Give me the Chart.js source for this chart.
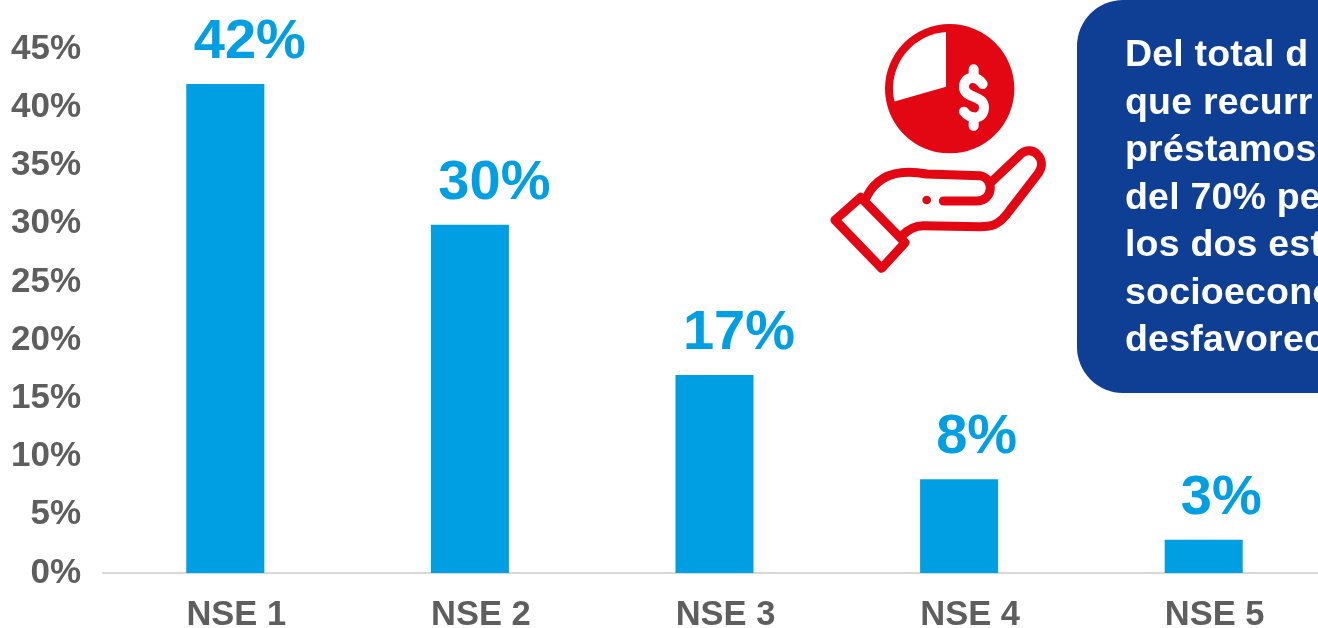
<!DOCTYPE html>
<html lang="es"><head><meta charset="utf-8">
<style>html,body{margin:0;padding:0;background:#fff;overflow:hidden;width:1318px;height:628px}canvas{display:block}</style>
<script src="https://cdn.jsdelivr.net/npm/chart.js@4"></script></head>
<body><canvas id="c" width="1326" height="628"></canvas>
<script>
const categories = ["NSE 1","NSE 2","NSE 3","NSE 4","NSE 5"];
const shares = [42, 29.9, 17, 8.05, 2.85];
const calloutLines = ["Del total d","que recurr","préstamos","del 70% pe","los dos est","socioecono","desfavorec"];
const FONT = '"Liberation Sans", Arial, sans-serif';
const BLUE = '#009FE3', GREY = '#5E5E5E', RED = '#E30613', NAVY = '#0F3F94';

const artwork = {
  id: 'artwork',
  afterDatasetsDraw(chart) {
    const ctx = chart.ctx, meta = chart.getDatasetMeta(0);
    ctx.save();
    ctx.fillStyle = BLUE; ctx.font = 'bold 56px ' + FONT;
    ctx.textAlign = 'center'; ctx.textBaseline = 'alphabetic';
    meta.data.forEach((bar, i) => {
      const txt = shares[i].toFixed(0) + '%';
      ctx.fillText(txt, bar.x + (txt.length > 2 ? 24.5 : 17.5), bar.y - 26);
    });
    // callout
    ctx.fillStyle = NAVY;
    ctx.beginPath(); ctx.roundRect(1077, 0, 300, 393, 46); ctx.fill();
    ctx.fillStyle = '#fff'; ctx.font = 'bold 37.5px ' + FONT; ctx.textAlign = 'left';
    ctx.letterSpacing = '0.2px';
    calloutLines.forEach((l, i) => ctx.fillText(l, 1125, 66 + i * 47.5));
    ctx.letterSpacing = '0px';
    // icon
    ctx.translate(820, 0); ctx.scale(1/3, 1/3);
    ctx.fillStyle = RED; ctx.strokeStyle = RED;
    ctx.beginPath(); ctx.arc(389, 266, 194, 0, Math.PI * 2); ctx.fill();
    ctx.fillStyle = '#fff';
    ctx.beginPath(); ctx.moveTo(378, 260); ctx.lineTo(378, 97);
    ctx.arc(389, 266, 170, Math.atan2(97 - 266, 378 - 389), Math.atan2(305 - 266, 222 - 389), true);
    ctx.closePath(); ctx.fill();
    ctx.strokeStyle = '#fff'; ctx.lineWidth = 30; ctx.lineCap = 'round'; ctx.lineJoin = 'round';
    ctx.beginPath();
    ctx.moveTo(488, 252); ctx.bezierCurveTo(470, 225, 432, 228, 432, 262);
    ctx.bezierCurveTo(432, 295, 492, 285, 492, 322);
    ctx.bezierCurveTo(492, 360, 450, 360, 432, 335);
    ctx.moveTo(461, 208); ctx.lineTo(461, 230);
    ctx.moveTo(461, 352); ctx.lineTo(461, 378);
    ctx.stroke();
    ctx.strokeStyle = RED; ctx.fillStyle = RED; ctx.lineWidth = 27;
    ctx.beginPath(); ctx.moveTo(45, 660); ctx.lineTo(122, 592); ctx.lineTo(255, 728); ctx.lineTo(185, 805); ctx.closePath(); ctx.stroke();
    ctx.beginPath(); ctx.moveTo(140, 590);
    ctx.bezierCurveTo(170, 530, 230, 505, 320, 522);
    ctx.lineTo(480, 527); ctx.bezierCurveTo(525, 535, 520, 603, 470, 603); ctx.lineTo(370, 603);
    ctx.moveTo(515, 545); ctx.lineTo(605, 460);
    ctx.bezierCurveTo(635, 435, 685, 475, 655, 520);
    ctx.lineTo(570, 630); ctx.bezierCurveTo(535, 680, 510, 680, 480, 680);
    ctx.lineTo(310, 677); ctx.bezierCurveTo(280, 677, 262, 690, 245, 708);
    ctx.stroke();
    ctx.beginPath(); ctx.arc(320, 600, 13, 0, Math.PI * 2); ctx.fill();
    ctx.restore();
  }
};

new Chart(document.getElementById('c'), {
  type: 'bar',
  data: { labels: categories, datasets: [{ data: shares, backgroundColor: BLUE, barPercentage: 0.319, categoryPercentage: 1 }] },
  options: {
    responsive: false, animation: false,
    layout: { padding: { top: 49, right: 0, left: 0, bottom: 0 } },
    plugins: { legend: { display: false }, tooltip: { enabled: false } },
    scales: {
      x: {
        grid: { display: false, drawTicks: false },
        border: { color: '#D9D9D9', width: 2 },
        ticks: { color: GREY, font: { family: FONT, size: 34.5, weight: 'bold' }, padding: 22, labelOffset: 11, maxRotation: 0, autoSkip: false },
        afterFit(s) { s.height = 55; }
      },
      y: {
        min: 0, max: 45,
        grid: { display: false, drawTicks: false },
        border: { display: false },
        ticks: { stepSize: 5, color: GREY, padding: 22, font: { family: FONT, size: 35, weight: 'bold' }, callback: v => v + '%' },
        afterFit(s) { s.width = 103; }
      }
    }
  },
  plugins: [artwork]
});
</script></body></html>
